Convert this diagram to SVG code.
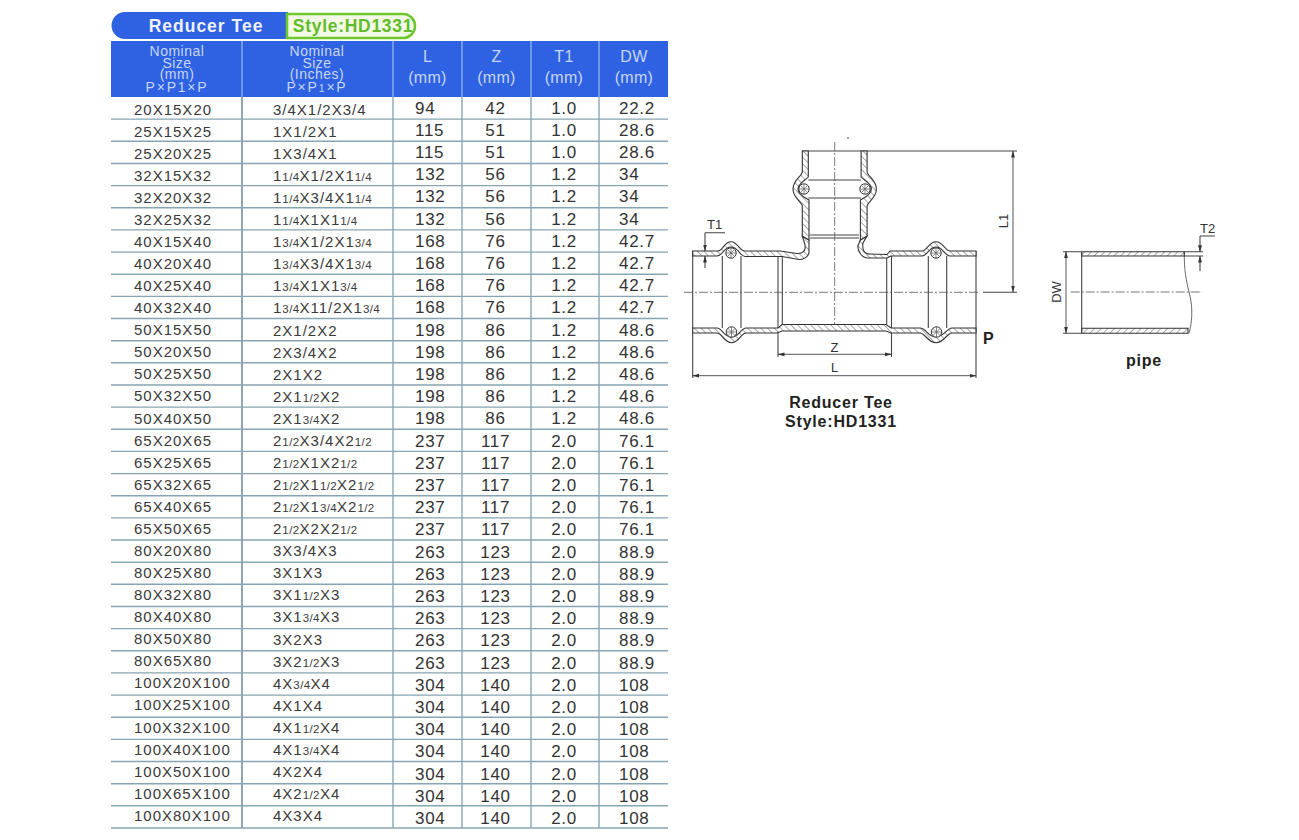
<svg xmlns="http://www.w3.org/2000/svg" width="1299" height="840" viewBox="0 0 1299 840">
<style>
text{font-family:"Liberation Sans",Arial,sans-serif}
.c1{font-size:15px;letter-spacing:1px;fill:#3a3a3a}
.c2{font-size:15px;letter-spacing:1px;fill:#3a3a3a}
.f{font-size:11.500px;letter-spacing:.4px}
.n{font-size:17px;letter-spacing:.7px;fill:#333}
.m{text-anchor:middle}
.h{font-size:14px;letter-spacing:.5px;fill:#c6d6f6;text-anchor:middle}
.hp{letter-spacing:1.800px}
.hn{font-size:16px;letter-spacing:.3px;fill:#c6d6f6;text-anchor:middle}
.rl{stroke:#86a5b4;stroke-width:1.4}
.cl{stroke:#86a8b8;stroke-width:1.4}
.ln{fill:none;stroke:#444;stroke-width:1.1}
.th{fill:none;stroke:#444;stroke-width:.8}
.wall{fill:url(#hatch);stroke:#333;stroke-width:1.1}
.wallp{fill:url(#hatchp);stroke:#333;stroke-width:1.1}
.axis{fill:none;stroke:#555;stroke-width:.8;stroke-dasharray:9 2 2 2}
.dim{fill:none;stroke:#444;stroke-width:.9;marker-start:url(#ah);marker-end:url(#ah)}
.lbl{font-size:13px;fill:#333}
.cap{font-size:16px;font-weight:bold;letter-spacing:.8px;fill:#222;text-anchor:middle}
</style>
<defs>
<pattern id="hatch" width="4.700" height="4.700" patternUnits="userSpaceOnUse" patternTransform="rotate(-45)"><rect width="4.700" height="4.700" fill="#fff"/><line x1="0" y1="0" x2="0" y2="4.700" stroke="#666" stroke-width="1.100"/></pattern>
<pattern id="hatchp" width="4.700" height="4.700" patternUnits="userSpaceOnUse" patternTransform="rotate(45)"><rect width="4.700" height="4.700" fill="#fff"/><line x1="0" y1="0" x2="0" y2="4.700" stroke="#666" stroke-width="1.100"/></pattern>
<marker id="ah" markerWidth="7" markerHeight="5" refX="6.500" refY="2.500" orient="auto-start-reverse" markerUnits="userSpaceOnUse"><path d="M0,.6L7,2.500L0,4.400Z" fill="#333"/></marker>
<g id="ring"><circle r="5.200" fill="#fff" stroke="#333" stroke-width="1"/><path d="M-3.500,-3.500L3.500,3.500M-3.500,3.500L3.500,-3.500M-5,0H5M0,-5V5" stroke="#666" stroke-width=".8"/></g>
</defs>

<g id="title">
<path d="M125,12H288V39H125A13.500,13.500 0 0 1 125,12Z" fill="#2f62e2"/>
<text x="206" y="32" font-size="17.500" font-weight="bold" letter-spacing="1" fill="#eef3ff" text-anchor="middle">Reducer Tee</text>
<path d="M287,14H403A12,12 0 0 1 403,38H287Z" fill="#f2f9e4" stroke="#6cc82c" stroke-width="2.600"/>
<text x="353" y="32" font-size="17.500" font-weight="bold" letter-spacing=".7" fill="#62bc2a" text-anchor="middle">Style:HD1331</text>
</g>

<g id="table-header">
<rect x="111" y="41" width="557" height="56" fill="#2f62e2"/>
<path d="M242,41V97M393,41V97M462,41V97M531,41V97M599,41V97" stroke="#9dbbe8" stroke-width="1.200"/>
<text class="h" x="177" y="56">Nominal</text><text class="h" x="177" y="68">Size</text><text class="h" x="177" y="79">(mm)</text><text class="h hp" x="177" y="92">P×P1×P</text>
<text class="h" x="317" y="56">Nominal</text><text class="h" x="317" y="68">Size</text><text class="h" x="317" y="79">(Inches)</text><text class="h hp" x="317" y="92">P×P<tspan font-size="10.500">1</tspan>×P</text>
<text class="hn" x="427.500" y="62">L</text><text class="hn" x="427.500" y="83">(mm)</text>
<text class="hn" x="496.500" y="62">Z</text><text class="hn" x="496.500" y="83">(mm)</text>
<text class="hn" x="564" y="62">T1</text><text class="hn" x="564" y="83">(mm)</text>
<text class="hn" x="634" y="62">DW</text><text class="hn" x="634" y="83">(mm)</text>
</g>

<g id="table-grid">
<path class="cl" style="stroke:#5f8296" d="M242,97V828"/>
<path class="cl" d="M393,97V828M462,97V828M531,97V828M599,97V828"/>
<path class="rl" d="M111,119.100H668M111,141.300H668M111,163.500H668M111,185.600H668M111,207.800H668M111,229.900H668M111,252.100H668M111,274.200H668M111,296.400H668M111,318.500H668M111,340.700H668M111,362.800H668M111,385H668M111,407.100H668M111,429.300H668M111,451.400H668M111,473.600H668M111,495.700H668M111,517.900H668M111,540H668M111,562.200H668M111,584.300H668M111,606.500H668M111,628.600H668M111,650.800H668M111,672.900H668M111,695.100H668M111,717.200H668M111,739.400H668M111,761.500H668M111,783.700H668M111,805.800H668M111,828H668"/>
</g>

<g id="table-col-mm">
<text class="c1" x="134" y="114.500">20X15X20</text><text class="c1" x="134" y="136.600">25X15X25</text><text class="c1" x="134" y="158.600">25X20X25</text><text class="c1" x="134" y="180.700">32X15X32</text><text class="c1" x="134" y="202.800">32X20X32</text><text class="c1" x="134" y="224.900">32X25X32</text><text class="c1" x="134" y="246.900">40X15X40</text><text class="c1" x="134" y="269">40X20X40</text><text class="c1" x="134" y="291.100">40X25X40</text><text class="c1" x="134" y="313.100">40X32X40</text><text class="c1" x="134" y="335.200">50X15X50</text><text class="c1" x="134" y="357.300">50X20X50</text><text class="c1" x="134" y="379.300">50X25X50</text><text class="c1" x="134" y="401.400">50X32X50</text><text class="c1" x="134" y="423.500">50X40X50</text><text class="c1" x="134" y="445.600">65X20X65</text><text class="c1" x="134" y="467.600">65X25X65</text><text class="c1" x="134" y="489.700">65X32X65</text><text class="c1" x="134" y="511.800">65X40X65</text><text class="c1" x="134" y="533.800">65X50X65</text><text class="c1" x="134" y="555.900">80X20X80</text><text class="c1" x="134" y="578">80X25X80</text><text class="c1" x="134" y="600">80X32X80</text><text class="c1" x="134" y="622.100">80X40X80</text><text class="c1" x="134" y="644.200">80X50X80</text><text class="c1" x="134" y="666.300">80X65X80</text><text class="c1" x="134" y="688.300">100X20X100</text><text class="c1" x="134" y="710.400">100X25X100</text><text class="c1" x="134" y="732.500">100X32X100</text><text class="c1" x="134" y="754.500">100X40X100</text><text class="c1" x="134" y="776.600">100X50X100</text><text class="c1" x="134" y="798.700">100X65X100</text><text class="c1" x="134" y="820.700">100X80X100</text>
</g>

<g id="table-col-inches">
<text class="c2" x="273" y="114.800">3/4X1/2X3/4</text>
<text class="c2" x="273" y="136.900">1X1/2X1</text>
<text class="c2" x="273" y="158.900">1X3/4X1</text>
<text class="c2" x="273" y="181">1<tspan class="f">1/4</tspan>X1/2X1<tspan class="f">1/4</tspan></text>
<text class="c2" x="273" y="203.100">1<tspan class="f">1/4</tspan>X3/4X1<tspan class="f">1/4</tspan></text>
<text class="c2" x="273" y="225.200">1<tspan class="f">1/4</tspan>X1X1<tspan class="f">1/4</tspan></text>
<text class="c2" x="273" y="247.200">1<tspan class="f">3/4</tspan>X1/2X1<tspan class="f">3/4</tspan></text>
<text class="c2" x="273" y="269.300">1<tspan class="f">3/4</tspan>X3/4X1<tspan class="f">3/4</tspan></text>
<text class="c2" x="273" y="291.400">1<tspan class="f">3/4</tspan>X1X1<tspan class="f">3/4</tspan></text>
<text class="c2" x="273" y="313.400">1<tspan class="f">3/4</tspan>X11/2X1<tspan class="f">3/4</tspan></text>
<text class="c2" x="273" y="335.500">2X1/2X2</text>
<text class="c2" x="273" y="357.600">2X3/4X2</text>
<text class="c2" x="273" y="379.600">2X1X2</text>
<text class="c2" x="273" y="401.700">2X1<tspan class="f">1/2</tspan>X2</text>
<text class="c2" x="273" y="423.800">2X1<tspan class="f">3/4</tspan>X2</text>
<text class="c2" x="273" y="445.900">2<tspan class="f">1/2</tspan>X3/4X2<tspan class="f">1/2</tspan></text>
<text class="c2" x="273" y="467.900">2<tspan class="f">1/2</tspan>X1X2<tspan class="f">1/2</tspan></text>
<text class="c2" x="273" y="490">2<tspan class="f">1/2</tspan>X1<tspan class="f">1/2</tspan>X2<tspan class="f">1/2</tspan></text>
<text class="c2" x="273" y="512.100">2<tspan class="f">1/2</tspan>X1<tspan class="f">3/4</tspan>X2<tspan class="f">1/2</tspan></text>
<text class="c2" x="273" y="534.100">2<tspan class="f">1/2</tspan>X2X2<tspan class="f">1/2</tspan></text>
<text class="c2" x="273" y="556.200">3X3/4X3</text>
<text class="c2" x="273" y="578.300">3X1X3</text>
<text class="c2" x="273" y="600.300">3X1<tspan class="f">1/2</tspan>X3</text>
<text class="c2" x="273" y="622.400">3X1<tspan class="f">3/4</tspan>X3</text>
<text class="c2" x="273" y="644.500">3X2X3</text>
<text class="c2" x="273" y="666.600">3X2<tspan class="f">1/2</tspan>X3</text>
<text class="c2" x="273" y="688.600">4X<tspan class="f">3/4</tspan>X4</text>
<text class="c2" x="273" y="710.700">4X1X4</text>
<text class="c2" x="273" y="732.800">4X1<tspan class="f">1/2</tspan>X4</text>
<text class="c2" x="273" y="754.800">4X1<tspan class="f">3/4</tspan>X4</text>
<text class="c2" x="273" y="776.900">4X2X4</text>
<text class="c2" x="273" y="799">4X2<tspan class="f">1/2</tspan>X4</text>
<text class="c2" x="273" y="821">4X3X4</text>
</g>

<g id="table-col-l">
<text class="n" x="415" y="113.500">94</text><text class="n" x="415" y="135.700">115</text><text class="n" x="415" y="157.900">115</text><text class="n" x="415" y="180.100">132</text><text class="n" x="415" y="202.300">132</text><text class="n" x="415" y="224.500">132</text><text class="n" x="415" y="246.700">168</text><text class="n" x="415" y="268.900">168</text><text class="n" x="415" y="291.100">168</text><text class="n" x="415" y="313.300">168</text><text class="n" x="415" y="335.500">198</text><text class="n" x="415" y="357.700">198</text><text class="n" x="415" y="379.900">198</text><text class="n" x="415" y="402.100">198</text><text class="n" x="415" y="424.300">198</text><text class="n" x="415" y="446.500">237</text><text class="n" x="415" y="468.700">237</text><text class="n" x="415" y="490.900">237</text><text class="n" x="415" y="513.100">237</text><text class="n" x="415" y="535.300">237</text><text class="n" x="415" y="557.500">263</text><text class="n" x="415" y="579.700">263</text><text class="n" x="415" y="601.900">263</text><text class="n" x="415" y="624.100">263</text><text class="n" x="415" y="646.300">263</text><text class="n" x="415" y="668.500">263</text><text class="n" x="415" y="690.700">304</text><text class="n" x="415" y="712.900">304</text><text class="n" x="415" y="735.100">304</text><text class="n" x="415" y="757.300">304</text><text class="n" x="415" y="779.500">304</text><text class="n" x="415" y="801.700">304</text><text class="n" x="415" y="823.900">304</text>
</g>

<g id="table-col-z">
<text class="n m" x="495.500" y="113.500">42</text><text class="n m" x="495.500" y="135.700">51</text><text class="n m" x="495.500" y="157.900">51</text><text class="n m" x="495.500" y="180.100">56</text><text class="n m" x="495.500" y="202.300">56</text><text class="n m" x="495.500" y="224.500">56</text><text class="n m" x="495.500" y="246.700">76</text><text class="n m" x="495.500" y="268.900">76</text><text class="n m" x="495.500" y="291.100">76</text><text class="n m" x="495.500" y="313.300">76</text><text class="n m" x="495.500" y="335.500">86</text><text class="n m" x="495.500" y="357.700">86</text><text class="n m" x="495.500" y="379.900">86</text><text class="n m" x="495.500" y="402.100">86</text><text class="n m" x="495.500" y="424.300">86</text><text class="n m" x="495.500" y="446.500">117</text><text class="n m" x="495.500" y="468.700">117</text><text class="n m" x="495.500" y="490.900">117</text><text class="n m" x="495.500" y="513.100">117</text><text class="n m" x="495.500" y="535.300">117</text><text class="n m" x="495.500" y="557.500">123</text><text class="n m" x="495.500" y="579.700">123</text><text class="n m" x="495.500" y="601.900">123</text><text class="n m" x="495.500" y="624.100">123</text><text class="n m" x="495.500" y="646.300">123</text><text class="n m" x="495.500" y="668.500">123</text><text class="n m" x="495.500" y="690.700">140</text><text class="n m" x="495.500" y="712.900">140</text><text class="n m" x="495.500" y="735.100">140</text><text class="n m" x="495.500" y="757.300">140</text><text class="n m" x="495.500" y="779.500">140</text><text class="n m" x="495.500" y="801.700">140</text><text class="n m" x="495.500" y="823.900">140</text>
</g>

<g id="table-col-t1">
<text class="n m" x="564" y="113.500">1.0</text><text class="n m" x="564" y="135.700">1.0</text><text class="n m" x="564" y="157.900">1.0</text><text class="n m" x="564" y="180.100">1.2</text><text class="n m" x="564" y="202.300">1.2</text><text class="n m" x="564" y="224.500">1.2</text><text class="n m" x="564" y="246.700">1.2</text><text class="n m" x="564" y="268.900">1.2</text><text class="n m" x="564" y="291.100">1.2</text><text class="n m" x="564" y="313.300">1.2</text><text class="n m" x="564" y="335.500">1.2</text><text class="n m" x="564" y="357.700">1.2</text><text class="n m" x="564" y="379.900">1.2</text><text class="n m" x="564" y="402.100">1.2</text><text class="n m" x="564" y="424.300">1.2</text><text class="n m" x="564" y="446.500">2.0</text><text class="n m" x="564" y="468.700">2.0</text><text class="n m" x="564" y="490.900">2.0</text><text class="n m" x="564" y="513.100">2.0</text><text class="n m" x="564" y="535.300">2.0</text><text class="n m" x="564" y="557.500">2.0</text><text class="n m" x="564" y="579.700">2.0</text><text class="n m" x="564" y="601.900">2.0</text><text class="n m" x="564" y="624.100">2.0</text><text class="n m" x="564" y="646.300">2.0</text><text class="n m" x="564" y="668.500">2.0</text><text class="n m" x="564" y="690.700">2.0</text><text class="n m" x="564" y="712.900">2.0</text><text class="n m" x="564" y="735.100">2.0</text><text class="n m" x="564" y="757.300">2.0</text><text class="n m" x="564" y="779.500">2.0</text><text class="n m" x="564" y="801.700">2.0</text><text class="n m" x="564" y="823.900">2.0</text>
</g>

<g id="table-col-dw">
<text class="n" x="619" y="113.500">22.2</text><text class="n" x="619" y="135.700">28.6</text><text class="n" x="619" y="157.900">28.6</text><text class="n" x="619" y="180.100">34</text><text class="n" x="619" y="202.300">34</text><text class="n" x="619" y="224.500">34</text><text class="n" x="619" y="246.700">42.7</text><text class="n" x="619" y="268.900">42.7</text><text class="n" x="619" y="291.100">42.7</text><text class="n" x="619" y="313.300">42.7</text><text class="n" x="619" y="335.500">48.6</text><text class="n" x="619" y="357.700">48.6</text><text class="n" x="619" y="379.900">48.6</text><text class="n" x="619" y="402.100">48.6</text><text class="n" x="619" y="424.300">48.6</text><text class="n" x="619" y="446.500">76.1</text><text class="n" x="619" y="468.700">76.1</text><text class="n" x="619" y="490.900">76.1</text><text class="n" x="619" y="513.100">76.1</text><text class="n" x="619" y="535.300">76.1</text><text class="n" x="619" y="557.500">88.9</text><text class="n" x="619" y="579.700">88.9</text><text class="n" x="619" y="601.900">88.9</text><text class="n" x="619" y="624.100">88.9</text><text class="n" x="619" y="646.300">88.9</text><text class="n" x="619" y="668.500">88.9</text><text class="n" x="619" y="690.700">108</text><text class="n" x="619" y="712.900">108</text><text class="n" x="619" y="735.100">108</text><text class="n" x="619" y="757.300">108</text><text class="n" x="619" y="779.500">108</text><text class="n" x="619" y="801.700">108</text><text class="n" x="619" y="823.900">108</text>
</g>

<g id="tee">
<path class="ln" d="M722.300,256V328M741,256V328M778,256V333M782.300,256.500V324.500M886.700,256.500V324.500M891.500,256V333M928.300,256V328M946.700,256V328M976,251V333M692.700,251V333"/>
<path class="ln" d="M802.300,151H867M808.300,180H861M808.300,198H861M810,235H859M810,238H859"/>
<path class="wall" d="M692.700,251H718C723,251 724,241.700 731,241.700C738,241.700 739,251 745,251H780L797,253.500C803,254 806,250 805,245L802.300,236L809,240V252C809,256 804,260 799,259.500L782,256.500H745C740,256 738,247 731,247C724,247 722,256 717,256H692.700Z"/>
<path class="wall" d="M867,236L863,243C862,250 864,254 870,254L887,254.500L890,251H922C927,251 929,241.700 936,241.700C943,241.700 945,251 950,251H976V256H950C945,256 943,247 936,247C929,247 927,256 922,256H891L887,258H868C862,258 858,252 857.700,246L860.400,240Z"/>
<path class="wall" d="M692.700,333H717C722,333 724,342.700 731.500,342.700C739,342.700 741,333 746,333H777L782,331H886L891,333H920C925,333 928,342.700 936,342.700C944,342.700 947,333 952,333H976V328H952C947,328 944,337 936,337C928,337 926,328 920,328H891L886,324.500H782L778,328H746C741,328 739,337 731.500,337C724,337 722,328 717,328H692.700Z"/>
<path class="wall" d="M802.300,151V172C802,176 793,180 793,189C793,198 802,202 802.300,206V236L809,240V200C806,198 798,195 798,189C798,183 806,180 808.300,177V151Z"/>
<path class="wall" d="M867.100,151V172C867.400,176 876.400,180 876.400,189C876.400,198 867.400,202 867.100,206V236L860.400,240V200C863.400,198 871.400,195 871.400,189C871.400,183 863.400,180 861.100,177V151Z"/>
<use href="#ring" x="731" y="253"/><use href="#ring" x="936" y="253"/><use href="#ring" x="731.500" y="332"/><use href="#ring" x="936.500" y="332"/><use href="#ring" x="804" y="189"/><use href="#ring" x="865" y="189"/>
<path class="axis" d="M684,292.300H980M834.700,142V324"/>
<circle cx="848" cy="138" r=".8" fill="#333"/>
</g>

<g id="connectors">
<path class="ln" d="M867,151H1017M983,292.300H1017M778,333V357M891.500,333V357M692.700,333V378M976,333V378M705,232.700H725"/>
<path class="dim" d="M1013,151V292"/>
<path class="dim" d="M778,354.300H891.500"/>
<path class="dim" d="M692.700,375.700H976"/>
<path class="ln" style="marker-end:url(#ah)" d="M705,232.700V251"/>
<path class="ln" style="marker-end:url(#ah)" d="M705,268V256"/>
<path class="ln" d="M1081,251.700H1063M1081,333.300H1063M1184,251.700H1203M1184,256H1203M1200,236H1215"/>
<path class="dim" d="M1066,251.700V333.300"/>
<path class="ln" style="marker-end:url(#ah)" d="M1200,236V251.700"/>
<path class="ln" style="marker-end:url(#ah)" d="M1200,271V256"/>
</g>

<g id="pipe">
<path class="wallp" d="M1081.700,251.700H1184.300V256H1081.700Z"/>
<path class="wallp" d="M1081.700,328.300H1188V333.300H1081.700Z"/>
<path class="ln" d="M1081.700,251.700V333.300"/>
<path class="th" d="M1184.300,251.700C1184,270 1186,280 1190,296C1193,310 1192,322 1189,333.300"/>
<path class="axis" d="M1070.700,292H1202"/>
</g>

<g id="labels">
<text class="lbl" x="707" y="229">T1</text>
<text class="lbl" x="834.500" y="352" text-anchor="middle">Z</text>
<text class="lbl" x="834.500" y="372" text-anchor="middle">L</text>
<text class="lbl" transform="translate(1008,221) rotate(-90)" text-anchor="middle">L1</text>
<text class="lbl" transform="translate(1061,292) rotate(-90)" text-anchor="middle">DW</text>
<text class="lbl" x="1200" y="233">T2</text>
<text x="983" y="344" font-size="16" font-weight="bold" fill="#222">P</text>
<text class="cap" x="841" y="408">Reducer Tee</text>
<text class="cap" x="841" y="426.500">Style:HD1331</text>
<text class="cap" x="1144" y="366">pipe</text>
</g>
</svg>
